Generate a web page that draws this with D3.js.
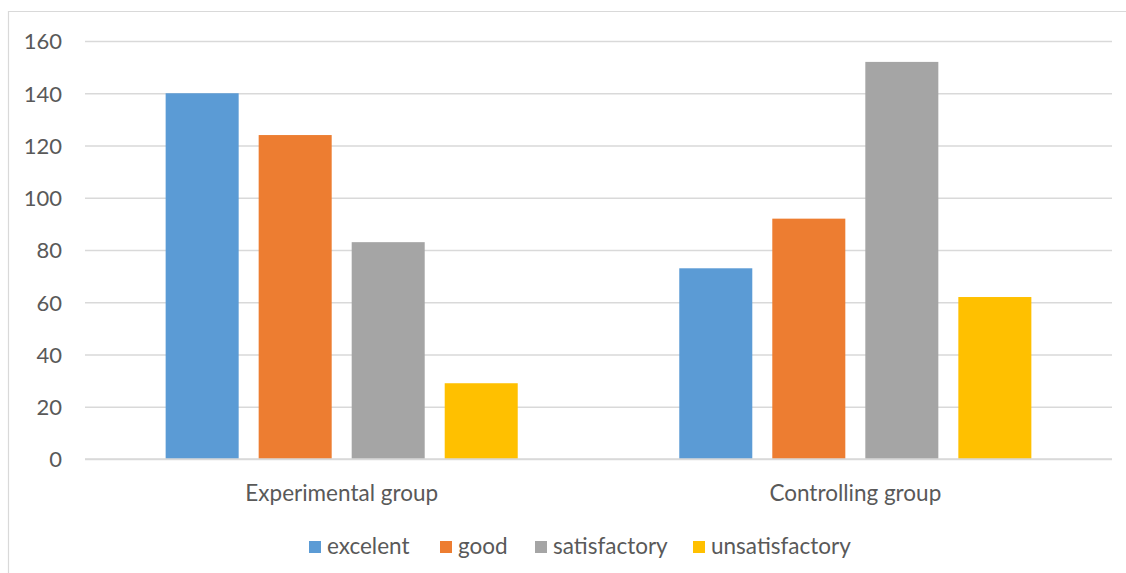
<!DOCTYPE html>
<html><head><meta charset="utf-8">
<script src="https://cdn.jsdelivr.net/npm/d3@7"></script>
<style>
html,body{margin:0;padding:0;background:#fff;}
svg{display:block;}
text{font-family:Lato,"Open Sans",sans-serif;fill:#595959;}
</style></head>
<body><svg id="chart" width="1126" height="573"></svg>
<script>
const categories = ["Experimental group", "Controlling group"];
const seriesNames = ["excelent", "good", "satisfactory", "unsatisfactory"];
const excelent = [140, 73];
const good = [124, 92];
const satisfactory = [83, 152];
const unsatisfactory = [29, 62];
const yTicks = [0, 20, 40, 60, 80, 100, 120, 140, 160];
const colors = ["#5b9bd5", "#ed7d31", "#a5a5a5", "#ffc000"];

const seriesValues = [excelent, good, satisfactory, unsatisfactory];
const data = categories.map((c, i) => ({cat: c, vals: seriesNames.map((s, j) => ({s, v: seriesValues[j][i]}))}));

const svg = d3.select("#chart");
svg.append("path").attr("d", "M8.5,573 L8.5,11.5 L1126,11.5").attr("fill", "none").attr("stroke", "#d9d9d9").attr("stroke-width", 1.2);

const L = 85, R = 1112, T = 41, B = 459;
const y = d3.scaleLinear().domain([0, 160]).range([B, T]);
const x0 = d3.scaleBand().domain(categories).range([L, R]).paddingInner(0.3145).paddingOuter(0.157);
const x1 = d3.scaleBand().domain(seriesNames).range([0, x0.bandwidth()]).paddingInner(0.215).paddingOuter(0);

const yAxis = d3.axisLeft(y).tickValues(yTicks).tickSize(-(R - L)).tickPadding(23).tickFormat(d3.format("d"));
const gy = svg.append("g").attr("transform", `translate(${L},0)`).call(yAxis);
gy.select(".domain").remove();
gy.selectAll(".tick line").attr("stroke", "#d9d9d9").attr("stroke-width", 1.3);
gy.selectAll(".tick text").attr("font-size", 22).style("font-family", 'Lato,"Open Sans",sans-serif').attr("fill", "#595959").attr("dy", "0.36em");

const g = svg.append("g");
const groups = g.selectAll("g.cat").data(data).join("g").attr("class", "cat").attr("transform", d => `translate(${x0(d.cat)},0)`);
groups.selectAll("rect").data(d => d.vals).join("rect")
  .attr("x", d => x1(d.s)).attr("width", x1.bandwidth())
  .attr("y", d => y(d.v)).attr("height", d => y(0) - y(d.v))
  .attr("fill", (d, i) => colors[i]);

svg.append("line").attr("x1", L).attr("x2", R).attr("y1", y(0)).attr("y2", y(0)).attr("stroke", "#d9d9d9").attr("stroke-width", 1.3);

const xAxis = d3.axisBottom(x0).tickSize(0).tickPadding(0);
const gx = svg.append("g").attr("transform", `translate(0,${B})`).call(xAxis);
gx.select(".domain").remove();
gx.selectAll(".tick text").attr("font-size", 22.5).style("font-family", 'Lato,"Open Sans",sans-serif').attr("fill", "#595959").attr("dy", null).attr("y", 42);

const legX = [309, 440, 535, 693];
const leg = svg.append("g");
seriesNames.forEach((s, i) => {
  const lg = leg.append("g").attr("transform", `translate(${legX[i]},541)`);
  lg.append("rect").attr("width", 12).attr("height", 12).attr("fill", colors[i]);
  lg.append("text").attr("x", 18).attr("y", 12.5).attr("font-size", 22.5).text(s);
});
</script></body></html>
